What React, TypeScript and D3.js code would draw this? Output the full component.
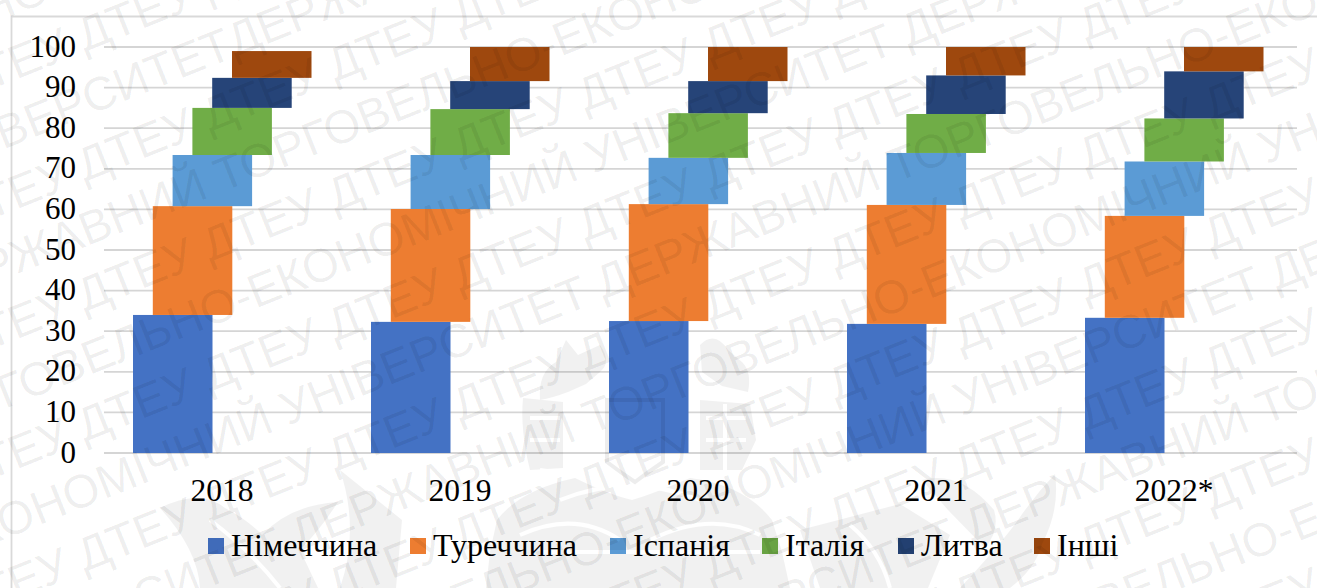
import React from "react";
import * as d3 from "d3";

const years = ["2018", "2019", "2020", "2021", "2022*"];
const countries = ["Німеччина", "Туреччина", "Іспанія", "Італія", "Литва", "Інші"];
const colors = ["#4472c4", "#ed7d31", "#5b9bd5", "#70ad47", "#264478", "#9e480e"];

const germany = [34, 32.3, 32.5, 31.8, 33.3];
const turkey = [26.8, 27.8, 28.8, 29.3, 25.1];
const spain = [12.6, 13.3, 11.4, 12.8, 13.4];
const italy = [11.6, 11.3, 11, 9.6, 10.6];
const lithuania = [7.4, 6.9, 7.9, 9.5, 11.6];
const others = [6.6, 8.4, 8.4, 7, 6];
const seriesValues = [germany, turkey, spain, italy, lithuania, others];

const yTicks = d3.range(0, 101, 10);

const longLine = "ДЕРЖАВНИЙ ТОРГОВЕЛЬНО-ЕКОНОМІЧНИЙ УНІВЕРСИТЕТ ";
const shortLine = "ДТЕУ ";

// Diagonal stamp: rows alternate between the full name and the abbreviation.
const stampAngle = -21.8;
const stampPitch = 130;
const longRows = d3.range(-1, 11).map((j) => ({ c: 151 + j * stampPitch, startX: 235 - 305 * j }));
const shortRows = d3.range(-1, 11).map((j) => ({ c: 216 + j * stampPitch, startX: 85 }));

// Silhouette pieces of the university emblem
const emblemShapes = [
  // castle above the book
  "M540 400 Q538 372 556 362 L566 340 L578 355 L600 345 Q612 362 600 372 L586 384 L568 392 Q552 398 540 400Z",
  "M700 345 Q715 330 728 350 L742 362 Q752 372 748 392 L722 386 L702 372Z",
  // side columns
  "M523 398 L563 402 L563 468 L530 470 Q520 430 523 398Z",
  "M700 400 L750 404 L756 440 L742 470 L700 470Z",
  // open book and the mass beneath it
  "M497 520 Q520 490 575 478 Q610 495 632 500 Q650 495 690 478 Q745 485 772 520 L782 552 L790 588 L486 588 L490 552Z",
  // left bird and branch
  "M160 508 Q200 488 225 508 Q248 520 262 535 Q290 505 338 502 Q320 530 300 550 L318 588 L200 588 Q198 550 160 508Z",
  "M340 470 L402 520 L396 588 L340 588 Q360 530 340 470Z",
  // right fan and wing
  "M922 480 Q960 470 994 510 Q1000 530 985 548 L948 510Z",
  "M1055 474 Q1060 510 1042 544 Q1036 568 1010 588 L960 588 Q1000 545 1018 520 Q1035 495 1055 474Z",
  "M800 530 L900 504 L950 535 L928 588 L820 588Z",
];
// Pale strokes cut back into the silhouette
const emblemCuts = [
  "M560 500 Q630 472 700 500",
  "M520 535 Q575 510 620 540",
  "M650 540 Q710 510 760 535",
  "M540 470 L610 480",
  "M540 552 H760",
  "M530 418 H560",
  "M530 440 H560",
  "M706 418 H746",
  "M706 440 H746",
  "M725 404 V470",
  "M210 520 Q250 550 280 588",
  "M850 525 Q880 550 890 588",
];
const shieldPath = "M607 400 H663 V462 Q648 472 635 482 Q620 472 607 462Z";

const W = 1317;
const H = 588;
const serif = "'Liberation Serif', serif";

export default function App() {
  const y = d3.scaleLinear().domain([0, 100]).range([453, 47]);
  const x = d3.scaleBand().domain(years).range([104, 1294]);
  const barW = 79.5;
  const stepX = 19.8;
  const firstOffset = 29;

  const rows = years.map((yr, i) => {
    const r: Record<string, number | string> = { yr };
    countries.forEach((c, k) => (r[c] = seriesValues[k][i]));
    return r;
  });
  const stacked = d3.stack<any>().keys(countries)(rows);

  const legendX = [208, 410, 610, 762, 898, 1034];
  const cosA = Math.cos((stampAngle * Math.PI) / 180);

  return (
    <svg
      width={W}
      height={H}
      viewBox={`0 0 ${W} ${H}`}
      style={{ position: "fixed", left: 0, top: 0, background: "#fff" }}
    >
      <path d={`M11.5 ${H}V16.5H${W}`} fill="none" stroke="#d9d9d9" strokeWidth={1.8} />

      {yTicks.map((t) => (
        <line key={t} x1={104} x2={1297} y1={y(t)} y2={y(t)} stroke="#d5d5d5" strokeWidth={1.8} />
      ))}
      {yTicks.map((t) => (
        <text key={t} x={76} y={y(t) + 9.5} textAnchor="end" fontFamily={serif} fontSize={31} fill="#000">
          {t}
        </text>
      ))}

      {stacked.map((s, k) =>
        s.map((d, i) => (
          <rect
            key={`${k}-${i}`}
            x={(x(years[i]) as number) + firstOffset + k * stepX}
            y={y(d[1])}
            width={barW}
            height={y(d[0]) - y(d[1])}
            fill={colors[k]}
          />
        ))
      )}

      {years.map((yr) => (
        <text
          key={yr}
          x={(x(yr) as number) + 118}
          y={501}
          textAnchor="middle"
          fontFamily={serif}
          fontSize={31.5}
          fill="#000"
        >
          {yr}
        </text>
      ))}

      {countries.map((c, k) => (
        <g key={c}>
          <rect x={legendX[k]} y={538} width={16} height={16} fill={colors[k]} />
          <text x={legendX[k] + 23} y={556} fontFamily={serif} fontSize={32} fill="#000">
            {c}
          </text>
        </g>
      ))}

      <mask id="emblem-mask" maskUnits="userSpaceOnUse" x={0} y={0} width={W} height={H}>
        <g fill="#fff">
          {emblemShapes.map((d) => (
            <path key={d} d={d} />
          ))}
        </g>
        <g fill="none" stroke="#000" strokeWidth={4}>
          {emblemCuts.map((d) => (
            <path key={d} d={d} />
          ))}
        </g>
      </mask>
      <g pointerEvents="none">
        <rect x={0} y={0} width={W} height={H} fill="#000" fillOpacity={0.055} mask="url(#emblem-mask)" />
        <path d={shieldPath} fill="none" stroke="#000" strokeOpacity={0.07} strokeWidth={4} />
      </g>

      <g
        fontFamily="'Liberation Sans', sans-serif"
        fontSize={47}
        fill="#000"
        fillOpacity={0.07}
        pointerEvents="none"
      >
        {longRows.map((r) => (
          <text
            key={r.c}
            transform={`translate(0 ${r.c}) rotate(${stampAngle})`}
            x={r.startX / cosA}
          >
            {longLine.repeat(3)}
          </text>
        ))}
        {longRows.map((r) => (
          <text
            key={`prev-${r.c}`}
            transform={`translate(0 ${r.c}) rotate(${stampAngle})`}
            textAnchor="end"
            x={r.startX / cosA}
          >
            {longLine.repeat(3)}
          </text>
        ))}
        {shortRows.map((r) => (
          <text
            key={r.c}
            transform={`translate(0 ${r.c}) rotate(${stampAngle})`}
            x={r.startX / cosA - 135}
          >
            {shortLine.repeat(14)}
          </text>
        ))}
      </g>
    </svg>
  );
}
